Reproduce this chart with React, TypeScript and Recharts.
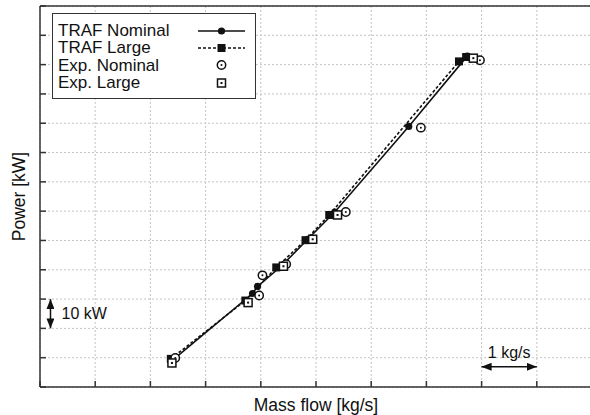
import React from 'react';
import { ComposedChart, Scatter, XAxis, YAxis, CartesianGrid, Legend, ReferenceLine } from 'recharts';

// mass flow in kg/s, power in kW (grid spacing = 1 kg/s, 10 kW)
const trafNomFlow = [2.43, 3.85, 3.94, 4.37, 4.85, 5.34, 6.68, 7.74];
const trafNomPower = [9.6, 31.9, 34.3, 41.2, 50.4, 59.7, 88.9, 112.9];

const trafLargeFlow = [2.37, 3.72, 4.28, 4.81, 5.24, 7.59, 7.72];
const trafLargePower = [9.6, 29.5, 40.8, 50.1, 58.7, 111.1, 112.6];

const expNomFlow = [2.45, 3.97, 4.03, 4.46, 5.54, 6.9, 7.97];
const expNomPower = [9.9, 31.2, 38.1, 41.9, 59.7, 88.5, 111.5];

const expLargeFlow = [2.39, 3.77, 4.41, 4.94, 5.39, 7.85];
const expLargePower = [8.2, 28.8, 41.2, 50.4, 58.7, 112.2];

const xTicks = [0, 1, 2, 3, 4, 5, 6, 7, 8, 9, 10];
const yTicks = [0, 10, 20, 30, 40, 50, 60, 70, 80, 90, 100, 110, 120, 130];

const legendNames = ['TRAF Nominal', 'TRAF Large', 'Exp. Nominal', 'Exp. Large'];

const zip = (xs: number[], ys: number[]) => xs.map((x, i) => ({ flow: x, power: ys[i] }));

const FONT = '"Liberation Sans", Arial, sans-serif';
const INK = '#111';
const AXIS = '#333';

const NoLabel = () => <g />;

const FilledCircle = ({ cx, cy }: any) => <circle cx={cx} cy={cy} r={3.6} fill={INK} />;
const FilledSquare = ({ cx, cy }: any) => <rect x={cx - 4} y={cy - 4} width={8} height={8} fill={INK} />;
const OpenCircle = ({ cx, cy }: any) => (
  <g>
    <circle cx={cx} cy={cy} r={4.2} fill="#fff" stroke={INK} strokeWidth={1.5} />
    <circle cx={cx} cy={cy} r={1} fill={INK} />
  </g>
);
const OpenSquare = ({ cx, cy }: any) => (
  <g>
    <rect x={cx - 4} y={cy - 4} width={8} height={8} fill="#fff" stroke={INK} strokeWidth={1.5} />
    <rect x={cx - 1} y={cy - 1} width={2} height={2} fill={INK} />
  </g>
);

const LegendBox = () => {
  const samples = [
    <g><line x1={0} y1={8} x2={47} y2={8} stroke={INK} strokeWidth={1.6} /><FilledCircle cx={23.5} cy={8} /></g>,
    <g><line x1={0} y1={8} x2={47} y2={8} stroke={INK} strokeWidth={1.6} strokeDasharray="3 2" /><FilledSquare cx={23.5} cy={8} /></g>,
    <OpenCircle cx={23.5} cy={8} />,
    <OpenSquare cx={23.5} cy={8} />,
  ];
  return (
    <div style={{ width: 204, height: 86, border: `1.5px solid ${AXIS}`, background: '#fff', padding: '8px 0 0 5px', boxSizing: 'border-box', fontFamily: FONT }}>
      {legendNames.map((n, i) => (
        <div key={n} style={{ display: 'flex', alignItems: 'center', height: 17.3 }}>
          <span style={{ fontSize: 17, color: INK, width: 140, lineHeight: '17px' }}>{n}</span>
          <svg width={48} height={16}>{samples[i]}</svg>
        </div>
      ))}
    </div>
  );
};

const App = () => (
  <div style={{ position: 'fixed', left: 0, top: 0, width: 590, height: 415, overflow: 'hidden', background: '#fff' }}>
    <ComposedChart width={600} height={415} margin={{ top: 6, right: 8, bottom: 28, left: 40 }}>
      <defs>
        <marker id="arrowHead" viewBox="0 0 10 8" refX={10} refY={4} markerWidth={10} markerHeight={8} markerUnits="userSpaceOnUse" orient="auto-start-reverse">
          <path d="M0,0 L10,4 L0,8 z" fill={INK} />
        </marker>
      </defs>
      <CartesianGrid stroke="#c4c4c4" strokeDasharray="2 2" />
      <XAxis
        type="number" dataKey="flow" domain={[0, 10]} ticks={xTicks} height={1}
        tick={NoLabel} mirror tickSize={6} stroke={AXIS} strokeWidth={1.5}
        label={{
          content: ({ viewBox }: any) => (
            <text x={viewBox.x + viewBox.width / 2} y={viewBox.y + 25} textAnchor="middle" fontSize={17.5} fontFamily={FONT} fill={INK}>Mass flow [kg/s]</text>
          ),
        }}
      />
      <XAxis xAxisId="top" orientation="top" type="number" domain={[0, 10]} ticks={xTicks} height={1} tick={NoLabel} mirror tickSize={6} stroke={AXIS} strokeWidth={1.5} />
      <YAxis
        type="number" dataKey="power" domain={[0, 130]} ticks={yTicks} width={1}
        tick={NoLabel} mirror tickSize={6} stroke={AXIS} strokeWidth={1.5}
        label={{
          content: ({ viewBox }: any) => {
            const cy = viewBox.y + viewBox.height / 2;
            return (
              <text x={19} y={cy} transform={`rotate(-90, 19, ${cy})`} textAnchor="middle" dominantBaseline="central" fontSize={17.5} fontFamily={FONT} fill={INK}>Power [kW]</text>
            );
          },
        }}
      />
      <YAxis yAxisId="right" orientation="right" type="number" domain={[0, 130]} ticks={yTicks} width={1} tick={NoLabel} mirror tickSize={6} stroke={AXIS} strokeWidth={1.5} />

      <ReferenceLine
        segment={[{ x: 0.19, y: 20 }, { x: 0.19, y: 30 }]}
        stroke={INK} strokeWidth={1.5} markerStart="url(#arrowHead)" markerEnd="url(#arrowHead)"
        label={{ value: '10 kW', position: 'right', offset: 11, fontSize: 16, fontFamily: FONT, fill: INK }}
      />
      <ReferenceLine
        segment={[{ x: 8, y: 6.9 }, { x: 9, y: 6.9 }]}
        stroke={INK} strokeWidth={1.5} markerStart="url(#arrowHead)" markerEnd="url(#arrowHead)"
        label={{ value: '1 kg/s', position: 'top', offset: 9, fontSize: 16, fontFamily: FONT, fill: INK }}
      />

      <Scatter name="TRAF Nominal" data={zip(trafNomFlow, trafNomPower)} fill={INK} shape={FilledCircle}
        line={{ stroke: INK, strokeWidth: 1.6 }} lineType="joint" isAnimationActive={false} />
      <Scatter name="TRAF Large" data={zip(trafLargeFlow, trafLargePower)} fill={INK} shape={FilledSquare}
        line={{ stroke: INK, strokeWidth: 1.6, strokeDasharray: '3 2' }} lineType="joint" isAnimationActive={false} />
      <Scatter name="Exp. Nominal" data={zip(expNomFlow, expNomPower)} fill={INK} shape={OpenCircle} isAnimationActive={false} />
      <Scatter name="Exp. Large" data={zip(expLargeFlow, expLargePower)} fill={INK} shape={OpenSquare} isAnimationActive={false} />

      <Legend layout="vertical" align="center" verticalAlign="middle" wrapperStyle={{ top: 13, left: 52, width: 'auto' }} content={() => <LegendBox />} />
    </ComposedChart>
  </div>
);

export default App;
